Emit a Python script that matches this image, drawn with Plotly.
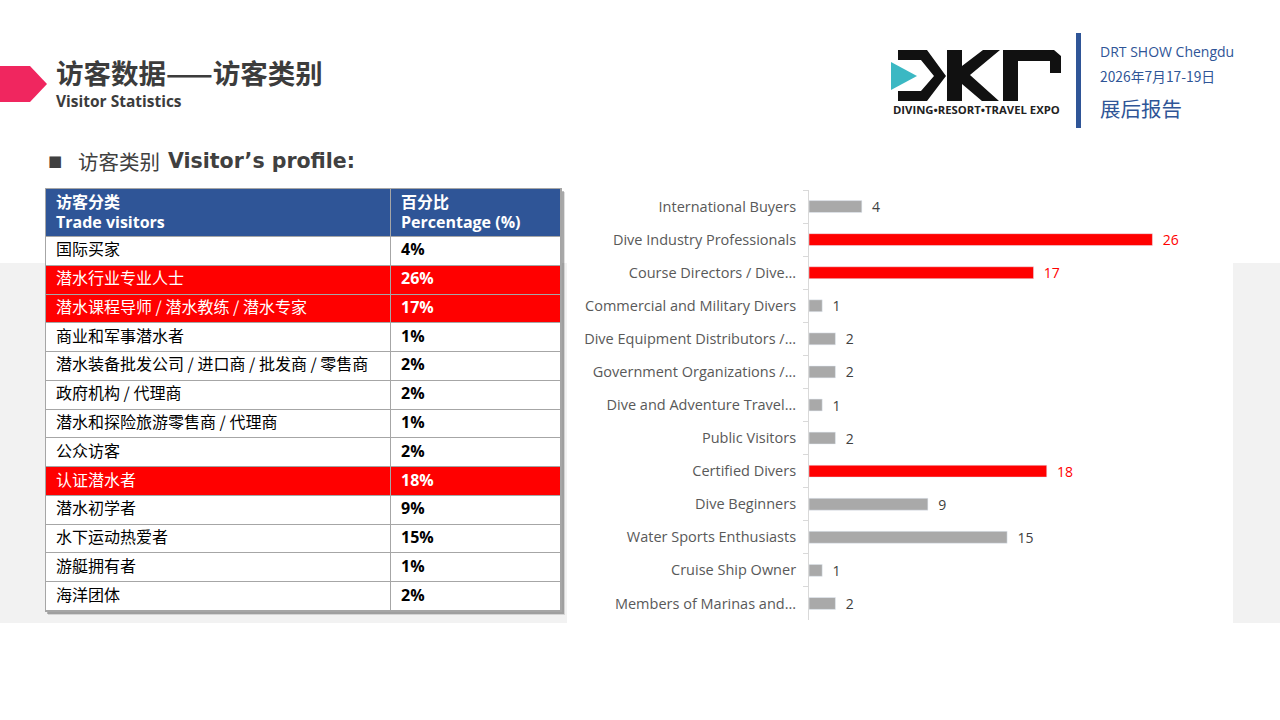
import plotly.graph_objects as go

W, H = 1280, 720

# ---- data ----
cats_cn = ['国际买家', '潜水行业专业人士', '潜水课程导师 / 潜水教练 / 潜水专家', '商业和军事潜水者',
           '潜水装备批发公司 / 进口商 / 批发商 / 零售商', '政府机构 / 代理商', '潜水和探险旅游零售商 / 代理商',
           '公众访客', '认证潜水者', '潜水初学者', '水下运动热爱者', '游艇拥有者', '海洋团体']
cats_en = ['International Buyers', 'Dive Industry Professionals', 'Course Directors / Dive...',
           'Commercial and Military Divers', 'Dive Equipment Distributors /...', 'Government Organizations /...',
           'Dive and Adventure Travel...', 'Public Visitors', 'Certified Divers', 'Dive Beginners',
           'Water Sports Enthusiasts', 'Cruise Ship Owner', 'Members of Marinas and...']
values = [4, 26, 17, 1, 2, 2, 1, 2, 18, 9, 15, 1, 2]
highlighted = ['Dive Industry Professionals', 'Course Directors / Dive...', 'Certified Divers']
header_cn = ['访客分类', '百分比']
header_en = ['Trade visitors', 'Percentage (%)']

RED = '#FF0000'
GREY = '#A9A9A9'
BLUE = '#2F5597'
LINE = '#A6A6A6'

is_hi = [c in highlighted for c in cats_en]


def px(x):
    return x / W


def py(y):
    return 1 - y / H


def path(pts):
    s = 'M ' + ' L '.join(f'{px(a):.5f},{py(b):.5f}' for a, b in pts)
    return s + ' Z'


fig = go.Figure()

# ---- table, drawn on its own hidden axes (units = pixels of the table box) ----
tbl_w, tbl_h = 515, 422
col_w = [345, 170]
head_h = 48
row_h = (tbl_h - head_h) / len(cats_cn)
x_edges = [0, col_w[0], col_w[0] + col_w[1]]
y_edges = [0, head_h] + [head_h + row_h * (i + 1) for i in range(len(cats_cn))]
y_mid = [(y_edges[i] + y_edges[i + 1]) / 2 for i in range(len(y_edges) - 1)]

z = [[2, 2]] + [[1, 1] if h else [0, 0] for h in is_hi]
fig.add_trace(go.Heatmap(
    x=x_edges, y=y_edges, z=z, xaxis='x2', yaxis='y2',
    zmin=0, zmax=2, showscale=False, xgap=1, ygap=1, hoverinfo='skip',
    colorscale=[[0, 'white'], [0.25, 'white'], [0.25, RED], [0.75, RED], [0.75, BLUE], [1, BLUE]],
))

pad = 10
txt_col = ['white' if h else 'black' for h in is_hi]
fig.add_trace(go.Scatter(
    x=[pad, col_w[0] + pad], y=[y_mid[0] + 1] * 2, xaxis='x2', yaxis='y2', mode='text',
    text=[f'<b>{a}<br>{b}</b>' for a, b in zip(header_cn, header_en)],
    textposition='middle right', hoverinfo='skip',
    textfont=dict(family='Open Sans, Noto Sans CJK SC', size=16, color='white'),
))
fig.add_trace(go.Scatter(
    x=[pad] * len(cats_cn), y=y_mid[1:], xaxis='x2', yaxis='y2', mode='text',
    text=cats_cn, textposition='middle right', hoverinfo='skip',
    textfont=dict(family='Noto Sans CJK SC', size=16, color=txt_col),
))
fig.add_trace(go.Scatter(
    x=[col_w[0] + pad] * len(values), y=y_mid[1:], xaxis='x2', yaxis='y2', mode='text',
    text=[f'<b>{v}%</b>' for v in values], textposition='middle right', hoverinfo='skip',
    textfont=dict(family='Open Sans', size=16, color=txt_col),
))

# ---- bar chart ----
fig.add_trace(go.Bar(
    x=values, y=cats_en, orientation='h',
    marker_color=[RED if h else GREY for h in is_hi],
    text=values, texttemplate='\u00a0\u00a0%{x}', textposition='outside',
    cliponaxis=False, constraintext='none',
    textfont=dict(family='Open Sans', size=14, color=[RED if h else '#404040' for h in is_hi]),
    hoverinfo='skip',
))

shapes = [
    # grey band and white chart panel
    dict(type='rect', xref='paper', yref='paper', x0=0, x1=1, y0=py(623), y1=py(263),
         fillcolor='#F2F2F2', line_width=0, layer='below'),
    dict(type='rect', xref='paper', yref='paper', x0=px(567), x1=px(1233), y0=py(623), y1=py(180),
         fillcolor='white', line_width=0, layer='below'),
    # table shadow and border
    dict(type='rect', xref='paper', yref='paper', x0=px(48), x1=px(565), y0=py(615), y1=py(192),
         fillcolor='rgba(0,0,0,0.12)', line_width=0, layer='below'),
    dict(type='rect', xref='paper', yref='paper', x0=px(47), x1=px(564), y0=py(614), y1=py(191),
         fillcolor='rgba(0,0,0,0.25)', line_width=0, layer='below'),
    dict(type='rect', xref='paper', yref='paper', x0=px(45), x1=px(562), y0=py(612), y1=py(188),
         fillcolor=LINE, line_width=0, layer='below'),
    # pink arrow
    dict(type='path', xref='paper', yref='paper',
         path=path([(0, 66), (30, 66), (47, 84), (30, 102), (0, 102)]),
         fillcolor='#F0265F', line_width=0),
    # logo
    dict(type='path', xref='paper', yref='paper',
         path=path([(898, 50), (927, 50), (946, 76), (927, 101), (898, 101), (898, 91),
                    (921, 91), (934, 76), (921, 60), (898, 60)]),
         fillcolor='#111111', line_width=0),
    dict(type='path', xref='paper', yref='paper',
         path=path([(891, 62), (917, 76), (891, 90)]),
         fillcolor='#3BB8C3', line_width=0),
    dict(type='path', xref='paper', yref='paper',
         path=path([(947, 50), (962, 50), (962, 66), (983, 50), (1000, 50), (970, 75),
                    (999, 101), (982, 101), (962, 84), (962, 101), (947, 101)]),
         fillcolor='#111111', line_width=0),
    dict(type='path', xref='paper', yref='paper',
         path=path([(1003, 50), (1054, 50), (1061, 56), (1061, 73), (1050, 73), (1050, 61),
                    (1018, 61), (1018, 101), (1003, 101)]),
         fillcolor='#111111', line_width=0),
    # blue divider
    dict(type='rect', xref='paper', yref='paper', x0=px(1076), x1=px(1081), y0=py(128), y1=py(33),
         fillcolor=BLUE, line_width=0),
]


def note(text, x, y, size, color, family='Noto Sans CJK SC', anchor='left'):
    return dict(text=text, x=px(x), y=py(y), xref='paper', yref='paper', showarrow=False,
                xanchor=anchor, yanchor='middle', font=dict(family=family, size=size, color=color))


annotations = [
    note('<b>访客数据——访客类别</b>', 54, 72, 27.5, '#3C3C3C'),
    note('<b>Visitor Statistics</b>', 54, 101, 15.5, '#3C3C3C', family='Open Sans'),
    note('■', 46, 161, 15, '#404040', family='DejaVu Sans'),
    note('访客类别', 76, 161, 20.5, '#404040'),
    note('<b>Visitor’s profile:</b>', 166, 161, 20.5, '#404040', family='DejaVu Sans'),
    note('<b>DIVING•RESORT•TRAVEL EXPO</b>', 976, 109, 11.3, '#222222', family='Open Sans', anchor='center'),
    note('DRT SHOW Chengdu', 1098, 52, 14, BLUE, family='Open Sans'),
    note('2026年7月17-19日', 1098, 76, 13.8, BLUE),
    note('展后报告', 1098, 108, 20.5, BLUE),
]

fig.update_layout(
    width=W, height=H, margin=dict(l=0, r=0, t=0, b=0),
    paper_bgcolor='white', plot_bgcolor='rgba(0,0,0,0)',
    showlegend=False, bargap=0.64,
    shapes=shapes, annotations=annotations,
    xaxis=dict(domain=[px(809), px(1233)], range=[0, 32.1], visible=False, fixedrange=True),
    yaxis=dict(domain=[py(620), py(190)], autorange='reversed', type='category',
               showline=True, linecolor='#D9D9D9', linewidth=1,
               ticks='outside', tickson='boundaries', ticklen=5, tickcolor='#D9D9D9',
               ticklabelstandoff=9, showgrid=False, fixedrange=True,
               tickfont=dict(family='Open Sans', size=14.5, color='#595959')),
    xaxis2=dict(domain=[px(46), px(561)], range=[0, tbl_w], visible=False, anchor='y2', fixedrange=True),
    yaxis2=dict(domain=[py(611), py(189)], range=[tbl_h, 0], visible=False, anchor='x2', fixedrange=True),
)

fig.write_html('out.html', config={'displayModeBar': False},
               post_script="document.body.style.margin='0';")
